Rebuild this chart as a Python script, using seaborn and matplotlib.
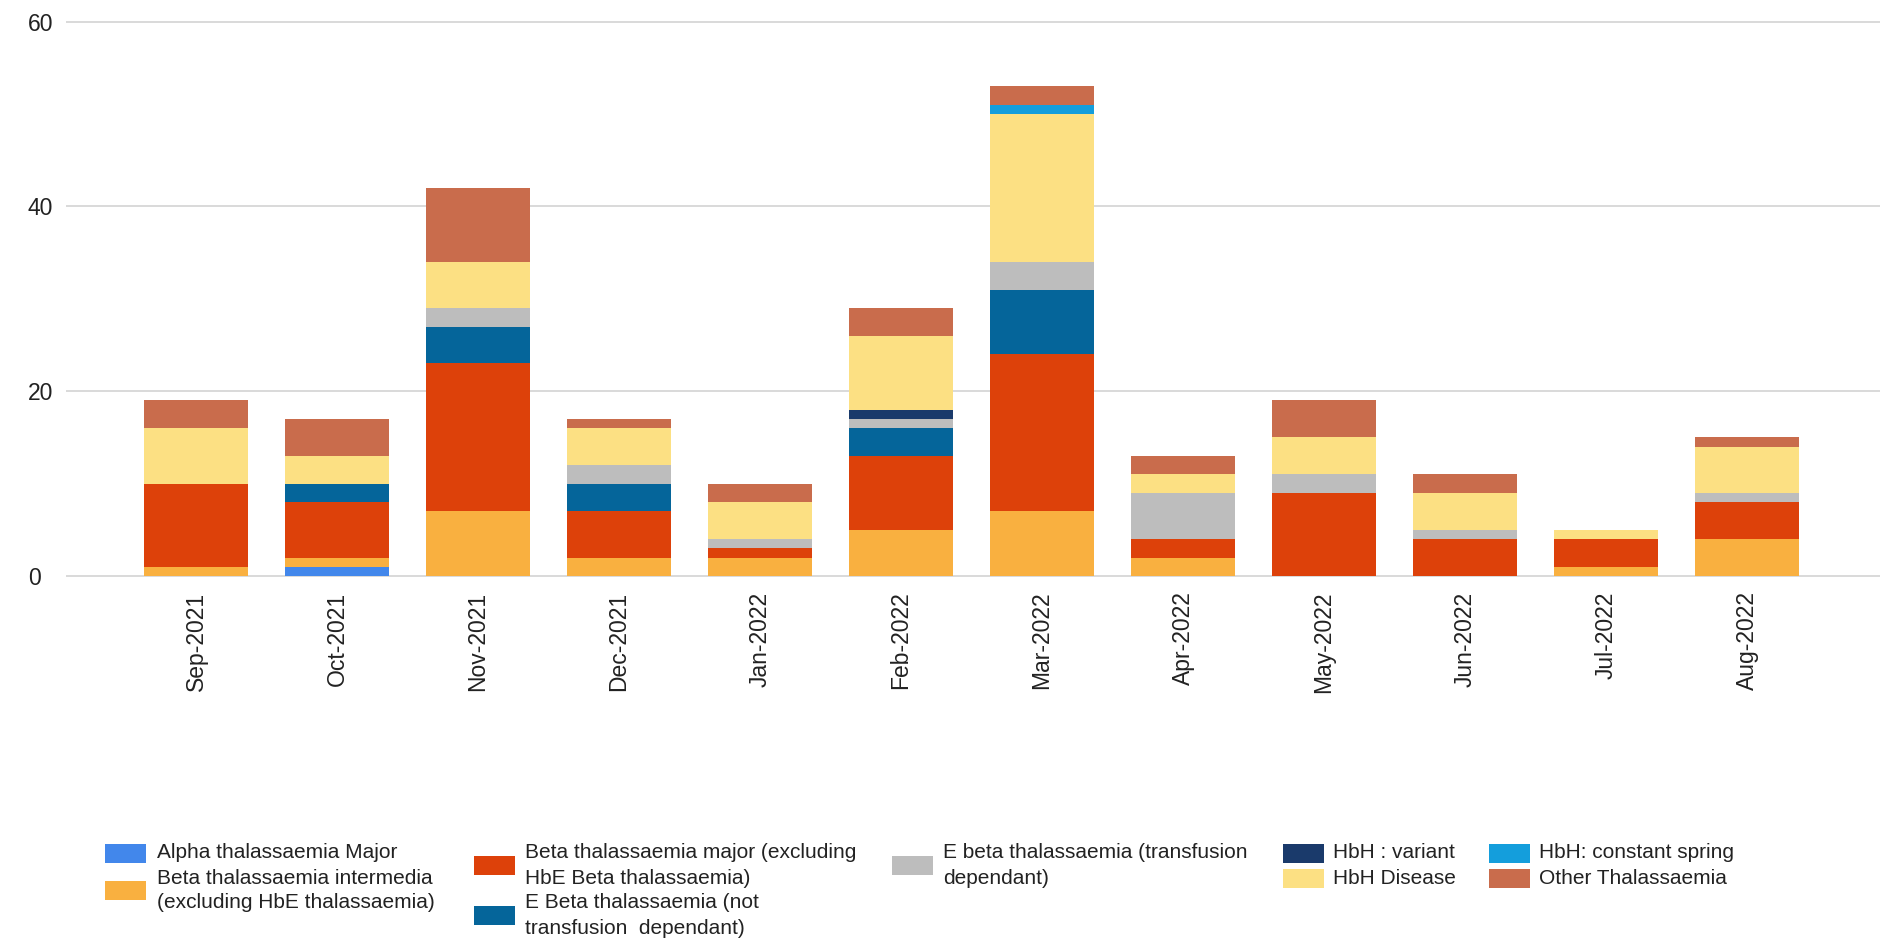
import pandas as pd
import numpy as np
import seaborn as sns
import matplotlib.pyplot as plt
from matplotlib.patches import Rectangle

# datos
months = ["Sep-2021", "Oct-2021", "Nov-2021", "Dec-2021", "Jan-2022", "Feb-2022",
          "Mar-2022", "Apr-2022", "May-2022", "Jun-2022", "Jul-2022", "Aug-2022"]

types = ["Alpha thalassaemia Major",
         "Beta thalassaemia intermedia (excluding HbE thalassaemia)",
         "Beta thalassaemia major (excluding HbE Beta thalassaemia)",
         "E Beta thalassaemia (not transfusion  dependant)",
         "E beta thalassaemia (transfusion dependant)",
         "HbH : variant",
         "HbH Disease",
         "HbH: constant spring",
         "Other Thalassaemia"]

alpha_major = [0, 1, 0, 0, 0, 0, 0, 0, 0, 0, 0, 0]
beta_intermedia = [1, 1, 7, 2, 2, 5, 7, 2, 0, 0, 1, 4]
beta_major = [9, 6, 16, 5, 1, 8, 17, 2, 9, 4, 3, 4]
e_beta_not_td = [0, 2, 4, 3, 0, 3, 7, 0, 0, 0, 0, 0]
e_beta_td = [0, 0, 2, 2, 1, 1, 3, 5, 2, 1, 0, 1]
hbh_variant = [0, 0, 0, 0, 0, 1, 0, 0, 0, 0, 0, 0]
hbh_disease = [6, 3, 5, 4, 4, 8, 16, 2, 4, 4, 1, 5]
hbh_cs = [0, 0, 0, 0, 0, 0, 1, 0, 0, 0, 0, 0]
other = [3, 4, 8, 1, 2, 3, 2, 2, 4, 2, 0, 1]

series = [alpha_major, beta_intermedia, beta_major, e_beta_not_td, e_beta_td,
          hbh_variant, hbh_disease, hbh_cs, other]

colors = ["#4287eb", "#f9b040", "#dd410a", "#05659a", "#bdbdbd",
          "#1a3a6b", "#fce083", "#149edc", "#c96c4c"]

legend_labels = ["Alpha thalassaemia Major",
                 "Beta thalassaemia intermedia\n(excluding HbE thalassaemia)",
                 "Beta thalassaemia major (excluding\nHbE Beta thalassaemia)",
                 "E Beta thalassaemia (not\ntransfusion  dependant)",
                 "E beta thalassaemia (transfusion\ndependant)",
                 "HbH : variant",
                 "HbH Disease",
                 "HbH: constant spring",
                 "Other Thalassaemia"]

# tabla larga para seaborn
rows = []
for t, vals in zip(types, series):
    for m, v in zip(months, vals):
        rows.append({"month": m, "type": t, "count": v})
df = pd.DataFrame(rows)

sns.set_theme(style="white")
plt.rcParams["font.family"] = ["Liberation Sans", "DejaVu Sans"]

W, H = 1881, 941
fig = plt.figure(figsize=(W / 100, H / 100), dpi=100)
ax = fig.add_axes([66 / W, 1 - 590 / H, 1 - 66 / W, 590 / H])

# seaborn apila el primer nivel arriba, asi que invertimos el orden
sns.histplot(data=df, x="month", weights="count", hue="type",
             hue_order=types[::-1], palette=dict(zip(types, colors)),
             multiple="stack", discrete=True, shrink=0.74, alpha=1,
             linewidth=0, legend=False, ax=ax, zorder=3)

px = 60 / (576 - 21.6)
ax.set_ylim(-(590 - 576) * px, 60 + 21.6 * px)
ax.set_xlim(-(196 - 66) / 141, (W - 196) / 141)
ax.set_yticks([0, 20, 40, 60])
for v in [0, 20, 40, 60]:
    ax.axhline(v, color="#d9d9d9", lw=1.4, zorder=1)
ax.set_xlabel("")
ax.set_ylabel("")
for s in ax.spines.values():
    s.set_visible(False)
ax.tick_params(axis="y", length=0, pad=27.5, labelsize=16.5, labelcolor="#222222")
for lb in ax.get_yticklabels():
    lb.set_horizontalalignment("left")
ax.tick_params(axis="x", length=0, pad=1, labelsize=16.5, labelcolor="#222222")
ax.set_xticks(range(len(months)))
ax.set_xticklabels(months, rotation=90)

# leyenda manual estilo google charts
patch_x = [105, 474, 892, 1283, 1489]
text_x = [157, 525, 943, 1333, 1539]
leg_pos = [(0, 0), (0, 1), (1, 0), (1, 2), (2, 0), (3, 0), (3, 1), (4, 0), (4, 1)]
line_y = [853, 878, 903, 928]
for lab, col, (c, r) in zip(legend_labels, colors, leg_pos):
    lines = lab.split("\n")
    ys = line_y[r:r + len(lines)]
    yc = np.mean(ys)
    fig.patches.append(Rectangle((patch_x[c] / W, 1 - (yc + 9.5) / H), 41 / W, 19 / H,
                                 transform=fig.transFigure, facecolor=col,
                                 edgecolor="none"))
    for ln, y in zip(lines, ys):
        fig.text(text_x[c] / W, 1 - y / H, ln, fontsize=15, color="#222222",
                 ha="left", va="center")

fig.savefig("out.png", dpi=100)
